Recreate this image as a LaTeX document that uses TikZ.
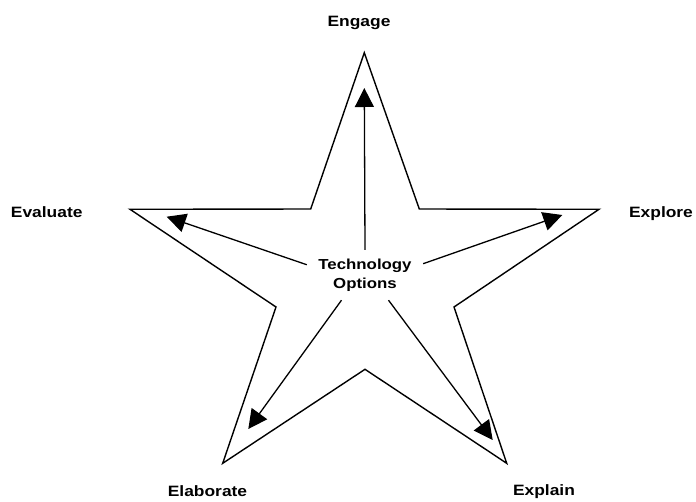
\documentclass[tikz,border=0pt]{standalone}
\usepackage{fontspec}
\setmainfont{Liberation Sans}[FakeStretch=1.16]
\usepackage{tikz}
\usetikzlibrary{arrows.meta,positioning,calc}

\begin{document}
\begin{tikzpicture}[
      x=1pt, y=-1pt,
      phasenode/.style={
        inner sep=0pt, anchor=base, text=black,
        font=\fontsize{15pt}{18pt}\selectfont\bfseries
      },
      hubnode/.style={
        rectangle, inner sep=0pt, minimum width=116pt, minimum height=50pt,
        align=center, font=\fontsize{14.5pt}{19.3pt}\selectfont\bfseries
      },
      starline/.style={draw=black, line width=1.4pt, line join=miter},
      flowarr/.style={-{Triangle[length=19pt,width=19pt]}, draw=black, line width=1.3pt}
    ]
      \useasboundingbox (0,0) rectangle (696,501);

      % star outline
      \coordinate (pTop) at (364.3,52.7);
      \coordinate (iTR)  at (419.3,209);
      \coordinate (pR)   at (599,209.3);
      \coordinate (iR)   at (454,307);
      \coordinate (pBR)  at (506.7,463.3);
      \coordinate (iB)   at (365,369.3);
      \coordinate (pBL)  at (222.7,463.3);
      \coordinate (iL)   at (276,307);
      \coordinate (pL)   at (130,209.3);
      \coordinate (iTL)  at (310.7,209);
      \draw[starline] (pTop) -- (iTR) -- (pR) -- (iR) -- (pBR) -- (iB)
        -- (pBL) -- (iL) -- (pL) -- (iTL) -- cycle;

      % phase labels
      \node[phasenode] (engage)    at (359,26)    {Engage};
      \node[phasenode] (evaluate)  at (46.7,217.7) {Evaluate};
      \node[phasenode] (explore)   at (661,217.7) {Explore};
      \node[phasenode] (elaborate) at (207.5,496) {Elaborate};
      \node[phasenode] (explain)   at (544,495)   {Explain};

      % centre
      \node[hubnode] (tech) at (365,275) {Technology\\Options};

      \coordinate (tipEngage)    at (364.3,88);
      \coordinate (tipEvaluate)  at (166.7,216.7);
      \coordinate (tipExplore)   at (562.3,215);
      \coordinate (tipElaborate) at (248.3,429);
      \coordinate (tipExplain)   at (492.7,440);

      \draw[flowarr] (tech.north) -- (tipEngage);
      \draw[flowarr] (tech.170) -- (tipEvaluate);
      \draw[flowarr] (tech.11) -- (tipExplore);
      \draw[flowarr] (tech.227) -- (tipElaborate);
      \draw[flowarr] (tech.313) -- (tipExplain);
    \end{tikzpicture}
\end{document}
